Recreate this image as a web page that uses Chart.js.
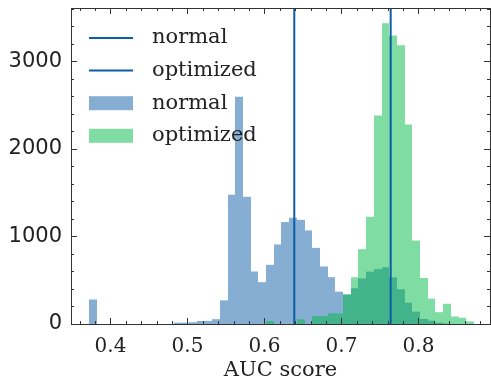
<!DOCTYPE html>
<html>
<head>
<meta charset="utf-8">
<script src="https://cdn.jsdelivr.net/npm/chart.js@4.4.1/dist/chart.umd.min.js"></script>
<style>
  html, body { margin: 0; padding: 0; background: #fff; }
  #wrap { width: 491px; height: 381px; }
</style>
</head>
<body>
<div id="wrap"><canvas id="aucChart" width="491" height="381"></canvas></div>
<script>
// histogram bins (centre of each 0.01 wide bin)
const binCenters = [
    0.377, 0.387, 0.397, 0.407, 0.417, 0.427, 0.437, 0.447, 0.457, 0.467,
    0.477, 0.487, 0.497, 0.507, 0.517, 0.527, 0.537, 0.547, 0.557, 0.567,
    0.577, 0.587, 0.597, 0.607, 0.617, 0.627, 0.637, 0.647, 0.657, 0.667,
    0.677, 0.687, 0.697, 0.707, 0.717, 0.727, 0.737, 0.747, 0.757, 0.767,
    0.777, 0.787, 0.797, 0.807, 0.817, 0.827, 0.837, 0.847, 0.857, 0.867
];
const normalCounts = [
    280, 0, 0, 0, 0, 0, 0, 0, 0, 0,
    0, 15, 15, 20, 35, 35, 55, 270, 1476, 2597,
    1453, 600, 478, 676, 909, 1165, 1214, 1190, 1069, 870,
    657, 535, 370, 335, 408, 520, 598, 627, 648, 534,
    397, 244, 141, 57, 38, 15, 5, 0, 0, 0
];
const optimizedCounts = [
    0, 0, 0, 0, 0, 0, 0, 0, 0, 0,
    0, 0, 0, 0, 0, 0, 0, 0, 0, 0,
    0, 0, 0, 34, 0, 0, 0, 54, 0, 91,
    91, 122, 120, 340, 534, 855, 1225, 2383, 3438, 3297,
    3185, 2280, 954, 525, 290, 135, 231, 86, 71, 30
];
const meanNormal = 0.6387;
const meanOptimized = 0.7639;

const seriesLabels = ['normal', 'optimized'];
const xTicks = [0.4, 0.5, 0.6, 0.7, 0.8];
const yTicks = [0, 1000, 2000, 3000];
const xMin = 0.3487, xMax = 0.8929;
const yMin = 0, yMax = 3611;

const lineBlue = '#0C5DA5';
const histBlue = 'rgba(12, 93, 165, 0.5)';
const histGreen = 'rgba(0, 185, 69, 0.5)';
const axisColor = '#333';
const textColor = '#222';

function toPoints(values) {
    return binCenters.map((x, i) => ({ x: x, y: values[i] }));
}

function vline(x) {
    return [{ x: x, y: yMin }, { x: x, y: yMax }];
}

// put bar edges on whole pixels so neighbouring translucent bars don't leave seams
const snapBars = {
    id: 'snapBars',
    beforeDatasetsDraw(chart) {
        chart.getSortedVisibleDatasetMetas().forEach(meta => {
            if (meta.type !== 'bar') return;
            meta.data.forEach(el => {
                const l = Math.round(el.x - el.width / 2);
                const r = Math.round(el.x + el.width / 2);
                el.x = (l + r) / 2;
                el.width = r - l;
            });
        });
    }
};

// inward ticks on all four sides plus the box
const frameTicks = {
    id: 'frameTicks',
    afterDraw(chart) {
        const { ctx, chartArea: a, scales } = chart;
        const xs = scales.x, ys = scales.y;
        ctx.save();
        ctx.strokeStyle = axisColor;
        ctx.lineWidth = 1;
        ctx.beginPath();
        const tick = (x1, y1, x2, y2) => { ctx.moveTo(x1, y1); ctx.lineTo(x2, y2); };
        for (let v = 0.36; v < xMax; v += 0.02) {
            const px = Math.round(xs.getPixelForValue(v)) + 0.5;
            if (px < a.left || px > a.right) continue;
            const len = xTicks.some(t => Math.abs(t - v) < 1e-6) ? 6 : 3;
            tick(px, a.bottom, px, a.bottom - len);
            tick(px, a.top, px, a.top + len);
        }
        for (let v = 0; v < yMax; v += 200) {
            const py = Math.round(ys.getPixelForValue(v)) + 0.5;
            const len = v % 1000 === 0 ? 6 : 3;
            tick(a.left, py, a.left + len, py);
            tick(a.right, py, a.right - len, py);
        }
        ctx.stroke();
        ctx.strokeRect(Math.round(a.left) + 0.5, Math.round(a.top) + 0.5,
            Math.round(a.right - a.left), Math.round(a.bottom - a.top));
        ctx.restore();
    }
};

const insideLegend = {
    id: 'insideLegend',
    afterDraw(chart) {
        const { ctx, chartArea: a } = chart;
        const hx = a.left + 18, hw = 44;
        let y = a.top + 30;
        ctx.save();
        ctx.font = '21px "DejaVu Serif"';
        ctx.textBaseline = 'middle';
        chart.data.datasets.forEach(ds => {
            if (ds.type === 'line') {
                ctx.strokeStyle = ds.borderColor;
                ctx.lineWidth = ds.borderWidth;
                ctx.beginPath();
                ctx.moveTo(hx, y);
                ctx.lineTo(hx + hw, y);
                ctx.stroke();
            } else {
                ctx.fillStyle = ds.backgroundColor;
                ctx.fillRect(hx, y - 7, hw, 14);
            }
            ctx.fillStyle = textColor;
            ctx.fillText(ds.label, hx + 63, y);
            y += 32.6;
        });
        ctx.restore();
    }
};

new Chart(document.getElementById('aucChart'), {
    type: 'bar',
    data: {
        datasets: [
            { type: 'line', label: seriesLabels[0], data: vline(meanNormal), borderColor: lineBlue, borderWidth: 2, pointRadius: 0, order: 0 },
            { type: 'line', label: seriesLabels[1], data: vline(meanOptimized), borderColor: lineBlue, borderWidth: 2, pointRadius: 0, order: 0 },
            { label: seriesLabels[0], data: toPoints(normalCounts), backgroundColor: histBlue, order: 2 },
            { label: seriesLabels[1], data: toPoints(optimizedCounts), backgroundColor: histGreen, order: 1 }
        ]
    },
    options: {
        responsive: false,
        animation: false,
        layout: { padding: { left: 0, right: 1, top: 8, bottom: 0 } },
        datasets: {
            bar: { grouped: false, barPercentage: 1, categoryPercentage: 1, borderWidth: 0, inflateAmount: 0 }
        },
        plugins: {
            legend: { display: false },
            tooltip: { enabled: false }
        },
        scales: {
            x: {
                type: 'linear',
                offset: false,
                min: xMin,
                max: xMax,
                grid: { display: false, drawTicks: false },
                border: { display: false },
                afterBuildTicks: s => { s.ticks = xTicks.map(v => ({ value: v })); },
                afterFit: s => { s.height = 57; s.paddingLeft = 0; s.paddingRight = 0; },
                ticks: {
                    padding: 11,
                    color: textColor,
                    font: { family: 'DejaVu Serif', size: 20 },
                    callback: v => v.toFixed(1),
                    maxRotation: 0
                },
                title: {
                    display: true,
                    text: 'AUC score',
                    color: textColor,
                    font: { family: 'DejaVu Serif', size: 21, lineHeight: 1 },
                    padding: { top: 0, bottom: 0 }
                }
            },
            y: {
                min: yMin,
                max: yMax,
                grid: { display: false, drawTicks: false },
                border: { display: false },
                afterBuildTicks: s => { s.ticks = yTicks.map(v => ({ value: v })); },
                afterFit: s => { s.width = 71; s.paddingTop = 0; s.paddingBottom = 0; },
                ticks: {
                    padding: 9,
                    color: textColor,
                    font: { family: 'DejaVu Sans', size: 21 },
                    callback: v => String(v)
                }
            }
        }
    },
    plugins: [snapBars, frameTicks, insideLegend]
});
</script>
</body>
</html>
